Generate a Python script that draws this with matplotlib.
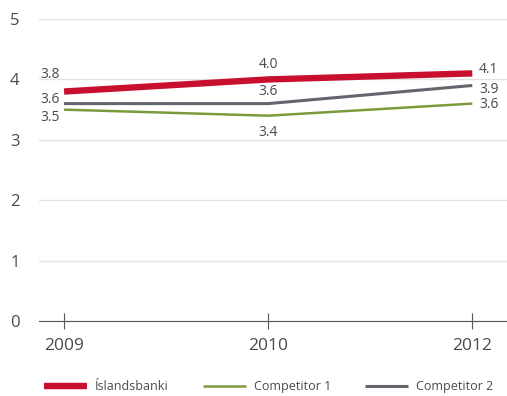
import matplotlib.pyplot as plt

plt.rcParams["font.family"] = ["Open Sans", "DejaVu Sans"]

years = ["2009", "2010", "2012"]
islandsbanki = [3.8, 4.0, 4.1]
competitor_1 = [3.5, 3.4, 3.6]
competitor_2 = [3.6, 3.6, 3.9]

text_color = "#4a4a4a"
series = [
    ("Íslandsbanki", islandsbanki, "#c8102e", 4.6, [(-10, 12), (0, 11), (12, 3)]),
    ("Competitor 1", competitor_1, "#7a9a3c", 1.8, [(-10, -6), (0, -12), (12, -1)]),
    ("Competitor 2", competitor_2, "#62666d", 2.2, [(-10, 3), (0, 9), (12, -3)]),
]

fig = plt.figure(figsize=(5.07, 3.96), dpi=100)
ax = fig.add_axes([0.077, 0.189, 0.923, 0.763])

x = range(len(years))
for name, vals, color, lw, offsets in series:
    ax.plot(x, vals, color=color, lw=lw, label=name, solid_capstyle="butt", zorder=3)
    for xi, v, (dx, dy) in zip(x, vals, offsets):
        ax.annotate(f"{v:.1f}", (xi, v), xytext=(dx, dy), textcoords="offset points",
                    ha="center", va="center", fontsize=10, color=text_color)

ax.set_ylim(0, 5)
ax.set_xlim(-0.1225, 2.17)
ax.set_yticks(range(6))
ax.set_xticks(list(x), years)
ax.grid(axis="y", color="#e2e2e2", lw=1)
ax.set_axisbelow(True)
for s in ["top", "right", "left"]:
    ax.spines[s].set_visible(False)
ax.spines["bottom"].set_color("#555555")
ax.tick_params(axis="y", length=0, labelsize=12, labelcolor=text_color, pad=14)
ax.tick_params(axis="x", direction="inout", length=12, color="#555555",
               labelsize=12.5, labelcolor=text_color, pad=6)

fig.legend(loc="center", bbox_to_anchor=(0.53, 0.023), ncol=3, frameon=False,
           fontsize=9, handlelength=3.45, handletextpad=0.65, columnspacing=2.7,
           labelcolor=text_color)

fig.savefig("out.png", dpi=100)
